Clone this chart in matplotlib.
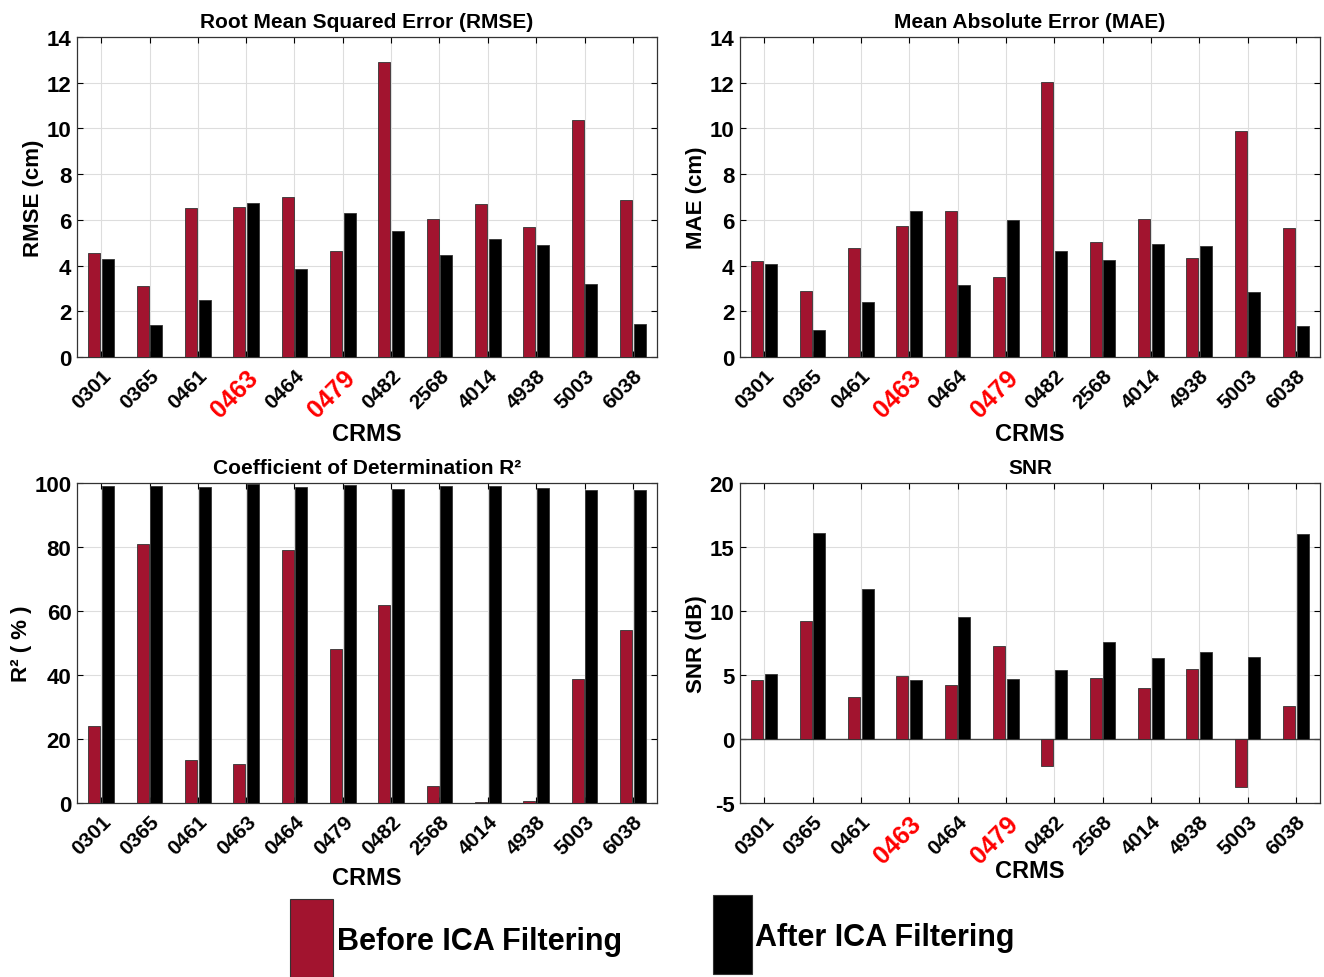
import matplotlib.pyplot as plt
import numpy as np
from matplotlib.patches import Rectangle

plt.rcParams['font.family'] = ['Liberation Sans', 'DejaVu Sans']
plt.rcParams['font.weight'] = 'bold'
plt.rcParams['axes.unicode_minus'] = False

crms = ["0301", "0365", "0461", "0463", "0464", "0479",
        "0482", "2568", "4014", "4938", "5003", "6038"]
highlight = ["0463", "0479"]

rmse_before = [4.55, 3.1, 6.5, 6.55, 7.0, 4.65, 12.9, 6.05, 6.7, 5.7, 10.35, 6.85]
rmse_after = [4.3, 1.4, 2.5, 6.75, 3.85, 6.3, 5.5, 4.45, 5.15, 4.9, 3.2, 1.45]

mae_before = [4.2, 2.9, 4.75, 5.75, 6.4, 3.5, 12.05, 5.05, 6.05, 4.35, 9.9, 5.65]
mae_after = [4.05, 1.2, 2.4, 6.4, 3.15, 6.0, 4.65, 4.25, 4.95, 4.85, 2.85, 1.35]

r2_before = [24.2, 81.0, 13.5, 12.3, 79.2, 48.2, 62.0, 5.2, 0.3, 0.6, 38.6, 54.1]
r2_after = [99.2, 99.2, 98.6, 99.6, 98.9, 99.5, 98.2, 99.2, 99.2, 98.3, 97.9, 97.9]

snr_before = [4.6, 9.2, 3.3, 4.9, 4.2, 7.3, -2.1, 4.75, 4.0, 5.5, -3.75, 2.6]
snr_after = [5.1, 16.1, 11.7, 4.6, 9.5, 4.7, 5.4, 7.55, 6.3, 6.8, 6.4, 16.0]

rot = "#A2142F"
W, H = 1324, 978


def panel(rect, before, after, title, ylabel, ylim, yticks, mark_red=True, xlabel_pad=0):
    ax = fig.add_axes(rect)
    x = np.arange(1, len(crms) + 1)
    ax.bar(x - 0.14, before, width=0.25, color=rot, edgecolor="#333333", linewidth=0.6, zorder=3)
    ax.bar(x + 0.14, after, width=0.25, color="black", edgecolor="#333333", linewidth=0.6, zorder=3)
    ax.set_xlim(0.5, len(crms) + 0.5)
    ax.set_ylim(*ylim)
    ax.set_yticks(yticks)
    ax.set_xticks(x)
    ax.set_xticklabels(crms, rotation=45, ha="right", rotation_mode="anchor", fontsize=15)
    for lbl in ax.get_xticklabels():
        if mark_red and lbl.get_text() in highlight:
            lbl.set_color("red")
            lbl.set_fontsize(18)
    ax.tick_params(direction="in", top=True, right=True, length=4, pad=6)
    ax.tick_params(axis="y", labelsize=16, pad=4)
    ax.grid(True, color="#dddddd", linewidth=0.8, zorder=0)
    ax.set_axisbelow(True)
    if ylim[0] < 0:
        ax.axhline(0, color="#444444", linewidth=1.0, zorder=2)
    ax.set_title(title, fontsize=15, fontweight="bold", pad=7)
    ax.set_ylabel(ylabel, fontsize=16, fontweight="bold", labelpad=2)
    ax.set_xlabel("CRMS", fontsize=17, fontweight="bold", labelpad=xlabel_pad)
    for s in ax.spines.values():
        s.set_linewidth(0.9)
        s.set_color("#333333")
    return ax


fig = plt.figure(figsize=(W / 100, H / 100), dpi=100)

top_b, top_h = 1 - 358 / H, 320 / H
bot_b, bot_h = 1 - 804 / H, 320 / H
lx, rx, aw = 77 / W, 740 / W, 580 / W

panel([lx, top_b, aw, top_h], rmse_before, rmse_after, "Root Mean Squared Error (RMSE)",
      "RMSE (cm)", (0, 14), range(0, 15, 2))
panel([rx, top_b, aw, top_h], mae_before, mae_after, "Mean Absolute Error (MAE)",
      "MAE (cm)", (0, 14), range(0, 15, 2))
panel([lx, bot_b, aw, bot_h], r2_before, r2_after, "Coefficient of Determination R²",
      "R² ( % )", (0, 100), range(0, 101, 20), mark_red=False, xlabel_pad=6)
panel([rx, bot_b, aw, bot_h], snr_before, snr_after, "SNR",
      "SNR (dB)", (-5, 20), range(-5, 21, 5), xlabel_pad=-6)

# legend drawn as tall swatches below the panels
fig.add_artist(Rectangle((290 / W, 0), 43 / W, 78 / H, transform=fig.transFigure,
                         facecolor=rot, edgecolor="#333333", linewidth=0.8))
fig.text(337 / W, 1 - 942 / H, "Before ICA Filtering", fontsize=22, fontweight="bold",
         va="center", ha="left")
fig.add_artist(Rectangle((713 / W, 3 / H), 39 / W, 79 / H, transform=fig.transFigure,
                         facecolor="black", edgecolor="#333333", linewidth=0.8))
fig.text(755 / W, 1 - 938 / H, "After ICA Filtering", fontsize=22, fontweight="bold",
         va="center", ha="left")

fig.savefig("out.png", dpi=100)
